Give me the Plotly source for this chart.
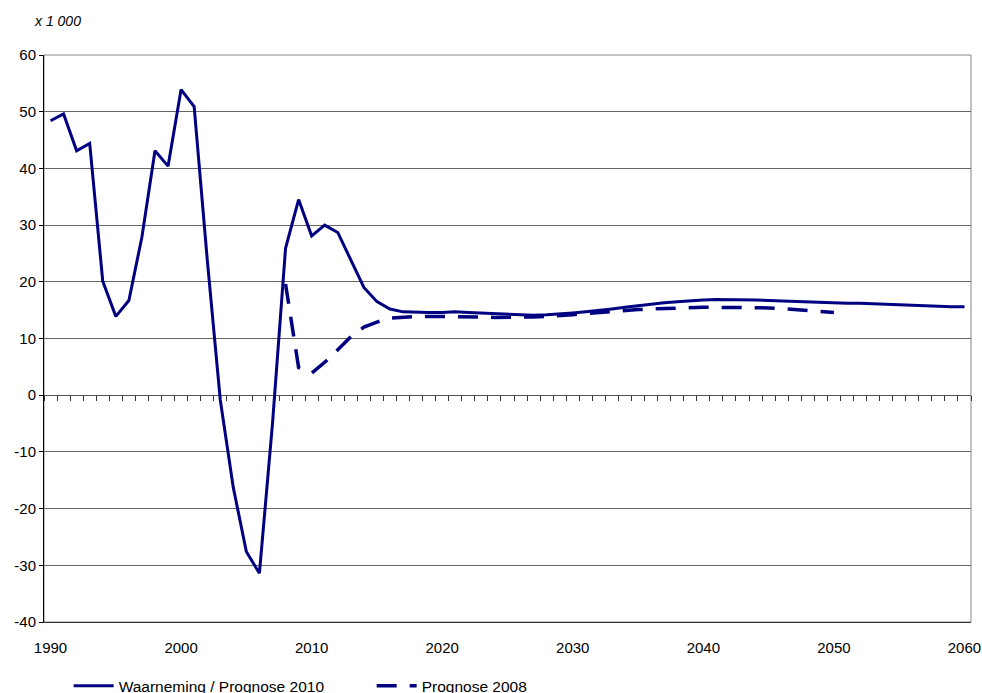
import plotly.graph_objects as go

years = list(range(1990, 2061))
waarneming_2010 = [
    48.4, 49.6, 43.1, 44.4, 20.1, 13.9, 16.7, 27.9, 43.1, 40.4,   # 1990-1999
    53.9, 50.9, 24.0, -0.8, -16.3, -27.6, -31.4, -5.0, 25.9, 34.5,  # 2000-2009
    28.1, 30.0, 28.7, 23.8, 19.0, 16.5, 15.2, 14.7, 14.6, 14.6,   # 2010-2019
    14.6, 14.7, 14.6, 14.5, 14.4, 14.3, 14.2, 14.1, 14.2, 14.3,   # 2020-2029
    14.5, 14.7, 14.9, 15.2, 15.5, 15.8, 16.1, 16.3, 16.5, 16.7,   # 2030-2039
    16.8, 16.9, 16.9, 16.9, 16.8, 16.7, 16.6, 16.5, 16.4, 16.3,   # 2040-2049
    16.3, 16.2, 16.2, 16.1, 16.0, 15.9, 15.8, 15.8, 15.7, 15.6,   # 2050-2059
    15.6,                                                         # 2060
]
years_2008 = list(range(2008, 2051))
prognose_2008 = [
    19.6, 4.9, 3.9, 5.8, 8.0, 10.3, 12.0, 12.9, 13.6, 13.8,       # 2008-2017
    13.9, 13.9, 13.9, 13.8, 13.8, 13.8, 13.7, 13.7, 13.7, 13.8,   # 2018-2027
    13.9, 14.0, 14.2, 14.4, 14.6, 14.8, 15.0, 15.1, 15.2, 15.3,   # 2028-2037
    15.4, 15.4, 15.5, 15.5, 15.5, 15.5, 15.4, 15.4, 15.3, 15.1,   # 2038-2047
    15.0, 14.8, 14.6,                                             # 2048-2050
]
x_tick_vals = [1990, 2000, 2010, 2020, 2030, 2040, 2050, 2060]
x_tick_text = ["1990", "2000", "2010", "2020", "2030", "2040", "2050", "2060"]
y_tick_vals = [-40, -30, -20, -10, 0, 10, 20, 30, 40, 50, 60]
y_tick_text = ["-40", "-30", "-20", "-10", "0", "10", "20", "30", "40", "50", "60"]

NAVY = "#000080"
FONT = "Liberation Sans, Arial, sans-serif"

fig = go.Figure()
fig.add_trace(go.Scatter(
    x=years, y=waarneming_2010, mode="lines", name="Waarneming / Prognose 2010",
    line=dict(color=NAVY, width=3), xaxis="x", yaxis="y",
))
fig.add_trace(go.Scatter(
    x=years_2008, y=prognose_2008, mode="lines", name="Prognose 2008",
    line=dict(color=NAVY, width=3.5, dash="20px,13px"), xaxis="x2", yaxis="y",
))

fig.update_layout(
    width=982, height=693,
    margin=dict(l=44, r=11, t=55, b=71, autoexpand=False),
    paper_bgcolor="white", plot_bgcolor="white",
    font=dict(family=FONT, size=15, color="black"),
    showlegend=True,
    legend=dict(
        orientation="h", x=0.0266, xanchor="left", y=-0.113, yanchor="middle",
        font=dict(size=15.5), entrywidth=248, entrywidthmode="pixels",
        bgcolor="rgba(0,0,0,0)", itemwidth=40,
    ),
    xaxis=dict(
        range=[1989.5, 2060.5], tickvals=x_tick_vals, ticktext=x_tick_text,
        showgrid=False, zeroline=False, showline=True, linecolor="#333333",
        ticks="", ticklabelstandoff=12, tickfont=dict(size=15),
    ),
    xaxis2=dict(
        range=[1989.5, 2060.5], matches="x", overlaying="x", anchor="free",
        position=0.4, side="bottom", showticklabels=False, showgrid=False,
        zeroline=False, showline=False, ticks="outside", ticklen=5,
        tickcolor="#333333", tickwidth=1, tick0=1990.5, dtick=1,
    ),
    yaxis=dict(
        range=[-40, 60], tickvals=y_tick_vals, ticktext=y_tick_text,
        showgrid=True, gridcolor="#666666", gridwidth=1,
        zeroline=True, zerolinecolor="#555555", zerolinewidth=1,
        showline=True, linecolor="black", linewidth=1,
        ticks="outside", ticklen=4, tickcolor="black", tickfont=dict(size=15),
    ),
    shapes=[dict(type="rect", xref="paper", yref="paper", x0=0, x1=1, y0=0, y1=1,
                 line=dict(color="#888888", width=1), layer="below")],
    annotations=[dict(
        text="<i>x 1 000</i>", xref="paper", yref="paper",
        x=-12 / 926, y=1 + (55.3 - 21.7) / 567, xanchor="left", yanchor="middle",
        showarrow=False, font=dict(size=14, family=FONT),
    )],
)

fig.write_html(
    "out.html",
    config={"displayModeBar": False},
    post_script="document.body.style.margin='0';document.body.style.overflow='hidden';",
)
